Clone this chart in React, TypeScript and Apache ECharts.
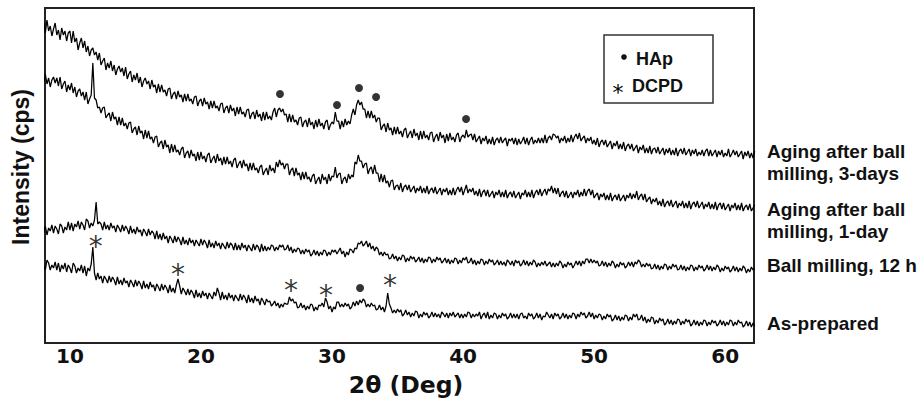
import { useEffect, useRef } from "react";
import * as echarts from "echarts";

// XRD scan grid (degrees 2θ): start and step of the recorded scan
const scanStart = 8;
const scanStep = 0.125;

// Intensity (arbitrary units, offset-stacked), one value per scan step (8.000 … 62.250°)
const aged3Days = [
  378, 367, 380, 369, 374, 364, 371, 377,
  365, 370, 360, 372, 365, 369, 359, 367,
  369, 357, 369, 358, 362, 350, 357, 362,
  352, 359, 348, 354, 344, 350, 352, 345,
  348, 340, 347, 335, 339, 342, 330, 337,
  332, 339, 329, 335, 325, 331, 334, 328,
  332, 324, 333, 321, 326, 329, 318, 325,
  320, 327, 317, 323, 313, 319, 322, 316,
  319, 311, 320, 313, 315, 307, 316, 308,
  315, 308, 310, 304, 311, 312, 301, 306,
  308, 301, 309, 303, 305, 298, 306, 299,
  306, 299, 301, 296, 303, 304, 294, 299,
  301, 294, 302, 296, 298, 291, 299, 292,
  299, 292, 294, 289, 296, 297, 287, 292,
  294, 287, 295, 289, 292, 284, 293, 286,
  293, 286, 288, 283, 290, 291, 281, 286,
  288, 281, 290, 283, 286, 279, 288, 280,
  288, 281, 284, 280, 288, 292, 283, 290,
  292, 288, 291, 285, 286, 278, 286, 278,
  285, 278, 280, 275, 282, 283, 273, 278,
  280, 273, 282, 275, 278, 271, 280, 273,
  281, 274, 277, 271, 278, 280, 270, 275,
  278, 276, 288, 279, 279, 271, 279, 273,
  281, 275, 279, 276, 285, 291, 285, 295,
  300, 295, 298, 291, 291, 282, 289, 282,
  289, 282, 285, 278, 282, 282, 270, 274,
  276, 268, 277, 270, 272, 265, 273, 266,
  273, 266, 269, 263, 270, 272, 262, 266,
  269, 262, 271, 264, 267, 260, 269, 261,
  269, 262, 265, 260, 267, 268, 258, 263,
  266, 259, 268, 262, 265, 257, 266, 259,
  267, 260, 263, 258, 265, 267, 258, 263,
  265, 262, 270, 263, 265, 266, 260, 266,
  258, 261, 264, 256, 262, 259, 264, 256,
  261, 256, 263, 255, 260, 262, 257, 263,
  257, 260, 262, 254, 261, 259, 262, 256,
  262, 255, 261, 256, 259, 263, 256, 262,
  255, 260, 263, 256, 260, 257, 262, 257,
  262, 257, 265, 257, 262, 264, 260, 266,
  265, 262, 264, 257, 262, 259, 264, 257,
  262, 258, 265, 258, 263, 266, 261, 267,
  259, 262, 264, 257, 262, 259, 263, 256,
  260, 255, 262, 253, 258, 260, 255, 260,
  253, 256, 259, 251, 257, 254, 259, 251,
  256, 251, 258, 249, 254, 256, 251, 256,
  249, 252, 255, 247, 253, 250, 255, 247,
  252, 247, 254, 246, 251, 252, 247, 253,
  246, 249, 252, 245, 251, 247, 252, 245,
  250, 245, 252, 244, 249, 251, 246, 252,
  245, 248, 251, 244, 250, 246, 251, 244,
  248, 245, 250, 244, 249, 251, 244, 250,
  244, 247, 250, 243, 249, 245, 250, 243,
  247, 244, 251, 243, 246, 250, 245, 249,
  243, 246, 249, 241, 248, 244, 249, 242,
  247, 242, 249,
];

const aged1Day = [
  318, 326, 316, 322, 313, 320, 323, 317,
  322, 314, 323, 311, 316, 319, 308, 315,
  310, 317, 307, 313, 303, 309, 311, 304,
  308, 300, 308, 296, 301, 305, 337, 302,
  300, 292, 293, 287, 292, 293, 282, 285,
  287, 279, 288, 281, 283, 275, 283, 275,
  282, 274, 277, 271, 277, 278, 267, 271,
  273, 265, 274, 267, 269, 261, 270, 262,
  269, 261, 263, 257, 263, 264, 253, 257,
  259, 251, 260, 253, 255, 247, 256, 248,
  255, 248, 250, 245, 251, 253, 242, 247,
  249, 242, 250, 244, 246, 239, 248, 240,
  248, 241, 244, 238, 245, 247, 237, 241,
  244, 237, 246, 239, 242, 235, 243, 236,
  243, 236, 239, 233, 240, 242, 232, 236,
  239, 232, 240, 234, 236, 229, 237, 230,
  237, 230, 232, 227, 233, 235, 225, 229,
  232, 225, 235, 229, 232, 227, 238, 233,
  240, 235, 237, 231, 236, 236, 225, 230,
  232, 224, 232, 225, 227, 220, 228, 221,
  228, 221, 223, 218, 224, 226, 216, 220,
  223, 216, 226, 220, 223, 216, 226, 219,
  224, 223, 233, 222, 226, 227, 216, 221,
  223, 217, 226, 221, 225, 223, 238, 236,
  245, 239, 239, 232, 236, 237, 226, 231,
  233, 226, 235, 227, 227, 218, 226, 218,
  225, 217, 219, 213, 219, 220, 210, 214,
  215, 210, 217, 208, 213, 215, 210, 215,
  208, 211, 214, 207, 212, 209, 214, 207,
  212, 207, 214, 206, 210, 212, 207, 213,
  206, 209, 212, 205, 211, 208, 212, 205,
  210, 205, 212, 205, 210, 213, 208, 213,
  205, 210, 215, 207, 211, 208, 212, 205,
  209, 204, 211, 203, 208, 210, 204, 210,
  203, 206, 209, 202, 208, 205, 210, 203,
  208, 203, 210, 202, 206, 208, 203, 209,
  202, 205, 208, 201, 207, 205, 210, 203,
  208, 203, 210, 202, 207, 210, 205, 211,
  204, 208, 211, 205, 211, 209, 214, 207,
  212, 206, 212, 203, 207, 209, 203, 209,
  202, 205, 208, 202, 208, 205, 210, 203,
  208, 204, 211, 204, 209, 211, 205, 210,
  202, 205, 207, 200, 206, 203, 207, 200,
  205, 200, 207, 199, 203, 205, 200, 206,
  199, 202, 205, 199, 205, 202, 207, 201,
  206, 202, 209, 200, 204, 206, 200, 206,
  198, 201, 203, 196, 201, 198, 202, 195,
  199, 194, 201, 193, 197, 199, 194, 200,
  193, 196, 199, 192, 197, 194, 199, 192,
  197, 192, 199, 191, 196, 198, 193, 199,
  192, 195, 198, 191, 196, 193, 198, 191,
  196, 191, 198, 190, 195, 197, 191, 197,
  190, 193, 196, 189, 195, 192, 197, 190,
  195, 190, 197, 189, 193, 195, 190, 196,
  189, 192, 195,
];

const milled12h = [
  167, 174, 165, 172, 169, 175, 167, 174,
  171, 166, 176, 174, 167, 173, 170, 178,
  170, 177, 169, 176, 173, 179, 171, 178,
  175, 170, 181, 179, 172, 177, 174, 180,
  198, 176, 178, 176, 170, 178, 171, 175,
  170, 177, 172, 174, 168, 175, 172, 168,
  175, 169, 174, 171, 166, 174, 167, 171,
  166, 173, 168, 170, 164, 171, 168, 164,
  171, 165, 169, 167, 161, 169, 161, 166,
  160, 167, 161, 164, 157, 164, 161, 157,
  164, 158, 163, 160, 155, 163, 156, 160,
  155, 162, 157, 160, 154, 160, 157, 154,
  161, 155, 160, 157, 152, 160, 153, 157,
  152, 159, 154, 157, 151, 157, 154, 151,
  158, 152, 157, 155, 150, 157, 150, 155,
  150, 157, 152, 155, 149, 155, 152, 149,
  156, 150, 155, 153, 148, 156, 149, 154,
  149, 153, 150, 155, 154, 149, 153, 150,
  155, 153, 155, 150, 151, 155, 149, 153,
  147, 151, 148, 152, 151, 146, 150, 146,
  151, 148, 150, 144, 146, 150, 145, 149,
  144, 148, 145, 150, 149, 144, 148, 145,
  150, 148, 150, 146, 149, 152, 146, 149,
  143, 148, 145, 151, 150, 147, 152, 151,
  157, 156, 159, 154, 156, 159, 153, 157,
  151, 154, 149, 153, 151, 145, 148, 144,
  148, 145, 146, 141, 142, 146, 141, 144,
  139, 143, 140, 145, 144, 138, 142, 139,
  144, 141, 143, 138, 140, 143, 138, 142,
  137, 141, 138, 143, 142, 137, 141, 138,
  143, 140, 142, 137, 139, 142, 137, 141,
  136, 140, 137, 142, 141, 136, 140, 137,
  142, 140, 143, 137, 138, 142, 136, 140,
  135, 139, 136, 141, 140, 135, 139, 136,
  141, 138, 140, 135, 137, 140, 135, 139,
  135, 138, 134, 140, 138, 135, 139, 134,
  140, 137, 139, 134, 136, 140, 135, 139,
  134, 138, 135, 140, 138, 133, 137, 134,
  138, 135, 139, 134, 136, 138, 133, 137,
  133, 137, 134, 139, 137, 132, 136, 133,
  138, 135, 137, 132, 135, 139, 135, 139,
  134, 139, 136, 141, 141, 137, 141, 137,
  140, 137, 139, 134, 135, 139, 134, 138,
  133, 137, 134, 139, 137, 132, 136, 133,
  138, 135, 137, 132, 134, 138, 134, 138,
  133, 138, 136, 140, 138, 133, 136, 133,
  137, 134, 136, 131, 132, 136, 131, 135,
  130, 134, 131, 136, 135, 130, 134, 131,
  136, 133, 135, 130, 131, 135, 130, 134,
  129, 133, 130, 135, 134, 129, 133, 130,
  135, 132, 134, 129, 131, 135, 130, 134,
  129, 133, 130, 135, 133, 128, 132, 129,
  134, 131, 133, 128, 130, 134, 129, 133,
  128, 132, 129, 134, 132, 127, 131, 128,
  133, 130, 132,
];

const asPrepared = [
  135, 130, 140, 137, 130, 135, 132, 138,
  130, 137, 128, 135, 131, 137, 128, 135,
  132, 127, 137, 134, 127, 132, 129, 135,
  127, 134, 124, 132, 129, 136, 153, 127,
  120, 127, 121, 124, 117, 124, 121, 117,
  124, 118, 123, 120, 115, 123, 116, 120,
  115, 122, 117, 119, 113, 120, 117, 113,
  120, 114, 119, 116, 111, 119, 112, 116,
  111, 118, 113, 115, 109, 116, 113, 109,
  116, 110, 115, 112, 107, 115, 108, 112,
  107, 115, 121, 114, 106, 112, 109, 105,
  111, 105, 110, 107, 102, 110, 103, 107,
  102, 109, 104, 107, 101, 107, 104, 101,
  108, 104, 112, 107, 100, 108, 101, 105,
  100, 107, 102, 105, 99, 105, 102, 99,
  106, 100, 105, 102, 97, 105, 98, 102,
  97, 104, 99, 101, 95, 102, 99, 95,
  101, 98, 99, 94, 96, 99, 94, 97,
  92, 96, 93, 97, 96, 96, 103, 99,
  101, 97, 98, 92, 93, 97, 92, 95,
  90, 94, 91, 96, 95, 89, 93, 90,
  95, 94, 97, 93, 102, 98, 91, 94,
  88, 93, 91, 98, 98, 93, 96, 93,
  97, 94, 96, 91, 93, 98, 94, 99,
  95, 100, 97, 101, 99, 93, 96, 93,
  97, 94, 95, 90, 91, 95, 90, 93,
  88, 94, 107, 96, 92, 87, 90, 87,
  91, 88, 90, 84, 86, 90, 85, 88,
  83, 87, 84, 89, 88, 82, 86, 83,
  88, 85, 87, 82, 84, 88, 83, 87,
  83, 86, 82, 88, 86, 83, 87, 82,
  87, 84, 88, 83, 85, 87, 82, 86,
  82, 86, 83, 88, 87, 82, 86, 83,
  86, 84, 88, 81, 85, 87, 82, 88,
  81, 85, 82, 87, 86, 81, 85, 82,
  87, 84, 86, 81, 83, 87, 82, 86,
  82, 86, 81, 86, 87, 82, 84, 81,
  87, 84, 86, 81, 83, 87, 82, 86,
  80, 84, 83, 88, 85, 82, 86, 81,
  87, 84, 86, 81, 83, 87, 82, 86,
  81, 85, 82, 87, 86, 81, 86, 83,
  88, 85, 87, 82, 84, 88, 83, 87,
  81, 85, 82, 86, 85, 80, 84, 81,
  86, 83, 85, 79, 81, 85, 80, 84,
  79, 83, 80, 85, 84, 79, 83, 80,
  86, 83, 86, 80, 81, 85, 79, 83,
  77, 81, 78, 83, 82, 76, 80, 77,
  82, 79, 81, 75, 77, 81, 76, 80,
  75, 79, 76, 81, 80, 75, 79, 76,
  81, 78, 80, 74, 76, 80, 75, 79,
  74, 78, 75, 80, 79, 74, 78, 75,
  80, 77, 79, 74, 76, 80, 75, 79,
  74, 78, 75, 80, 79, 74, 78, 75,
  80, 77, 78, 73, 75, 79, 74, 78,
  73, 77, 74,
];

// Peak markers [2θ, intensity]
const hapMarks = [
  [26.03, 306], [30.38, 295], [32.06, 312], [33.36, 303], [40.23, 281], [32.14, 112],
];
const dcpdMarks = [
  [11.98, 160], [18.24, 132], [26.87, 116], [29.54, 111], [34.43, 121],
];

const xTickValues = [10, 20, 30, 40, 50, 60];

const sampleNames = [
  "Aging after ball milling, 3-days",
  "Aging after ball milling, 1-day",
  "Ball milling, 12 h",
  "As-prepared",
];
const sampleLabels = [
  "Aging after ball\nmilling, 3-days",
  "Aging after ball\nmilling, 1-day",
  "Ball milling, 12 h",
  "As-prepared",
];
const legendNames = ["HAp", "DCPD"];

const toPairs = (vals: number[]) => vals.map((v, i) => [scanStart + i * scanStep, v]);

export default function App() {
  const ref = useRef<HTMLDivElement>(null);
  useEffect(() => {
    if (!ref.current) return;
    const chart = echarts.init(ref.current, undefined, { renderer: "svg" });
    const labelFont = { fontFamily: "Liberation Sans", fontWeight: "bold", fontSize: 19, fill: "#111" };
    const legendFont = { fontFamily: "Liberation Sans", fontWeight: "bold", fontSize: 18, fill: "#111" };
    const labelY = [162.5, 220.5, 265, 323];
    const allSeries = [aged3Days, aged1Day, milled12h, asPrepared];
    const option: any = {
      animation: false,
      grid: {
        left: 45, right: 167, top: 8, bottom: 60, show: true,
        borderColor: "#222", borderWidth: 2, backgroundColor: "transparent",
      },
      xAxis: {
        type: "value", min: 8.1, max: 62.2,
        axisLine: { show: false }, axisTick: { show: false }, splitLine: { show: false },
        axisLabel: {
          customValues: xTickValues, fontFamily: "DejaVu Sans", fontWeight: "bold",
          fontSize: 20, color: "#111", margin: 3,
        },
        name: "2θ (Deg)", nameLocation: "middle", nameGap: 30,
        nameTextStyle: {
          fontFamily: "DejaVu Sans", fontWeight: "bold", fontSize: 23.5, color: "#111",
          padding: [0, 0, 0, 13],
        },
      },
      yAxis: {
        type: "value", min: 57, max: 392,
        axisLine: { show: false }, axisTick: { show: false },
        axisLabel: { show: false }, splitLine: { show: false },
      },
      series: [
        ...allSeries.map((vals, k) => ({
          type: "line", name: sampleNames[k], data: toPairs(vals),
          showSymbol: false, symbol: "none", silent: true,
          lineStyle: { color: "#000", width: 1.25 },
        })),
        {
          type: "scatter", name: legendNames[0], data: hapMarks, symbol: "circle",
          symbolSize: 8, itemStyle: { color: "#000" }, silent: true,
        },
        {
          type: "scatter", name: legendNames[1], data: dcpdMarks, symbolSize: 0.1,
          itemStyle: { color: "transparent" }, silent: true,
          label: {
            show: true, formatter: "*", position: "inside", fontFamily: "DejaVu Sans",
            fontSize: 28, color: "#000", offset: [0, 6],
          },
        },
      ],
      graphic: [
        {
          type: "text", x: 21, y: 167, rotation: Math.PI / 2,
          style: {
            text: "Intensity (cps)", fontFamily: "Liberation Sans", fontWeight: "bold", fontSize: 23,
            fill: "#111", textAlign: "center", textVerticalAlign: "middle",
            align: "center", verticalAlign: "middle",
          },
        },
        {
          type: "rect", shape: { x: 604, y: 35, width: 109, height: 68 },
          style: { fill: "#fff", stroke: "#333", lineWidth: 1.5 }, z: 10,
        },
        { type: "circle", shape: { cx: 624, cy: 57, r: 2.8 }, style: { fill: "#111" }, z: 11 },
        {
          type: "text", x: 636, y: 59, z: 11,
          style: { ...legendFont, text: legendNames[0], textVerticalAlign: "middle", verticalAlign: "middle" },
        },
        {
          type: "text", x: 618, y: 92, z: 11,
          style: {
            text: "*", fontFamily: "DejaVu Sans", fontSize: 22, fill: "#000",
            textAlign: "center", align: "center", textVerticalAlign: "middle", verticalAlign: "middle",
          },
        },
        {
          type: "text", x: 632, y: 86, z: 11,
          style: { ...legendFont, text: legendNames[1], textVerticalAlign: "middle", verticalAlign: "middle" },
        },
        ...sampleLabels.map((t, i) => ({
          type: "text", x: 767, y: labelY[i],
          style: {
            ...labelFont, text: t, lineHeight: 22,
            textVerticalAlign: "middle", verticalAlign: "middle",
          },
        })),
      ],
    };
    chart.setOption(option);
    return () => chart.dispose();
  }, []);
  return (
    <div
      ref={ref}
      style={{ position: "fixed", left: 0, top: 0, width: 921, height: 403, background: "#fff" }}
    />
  );
}
